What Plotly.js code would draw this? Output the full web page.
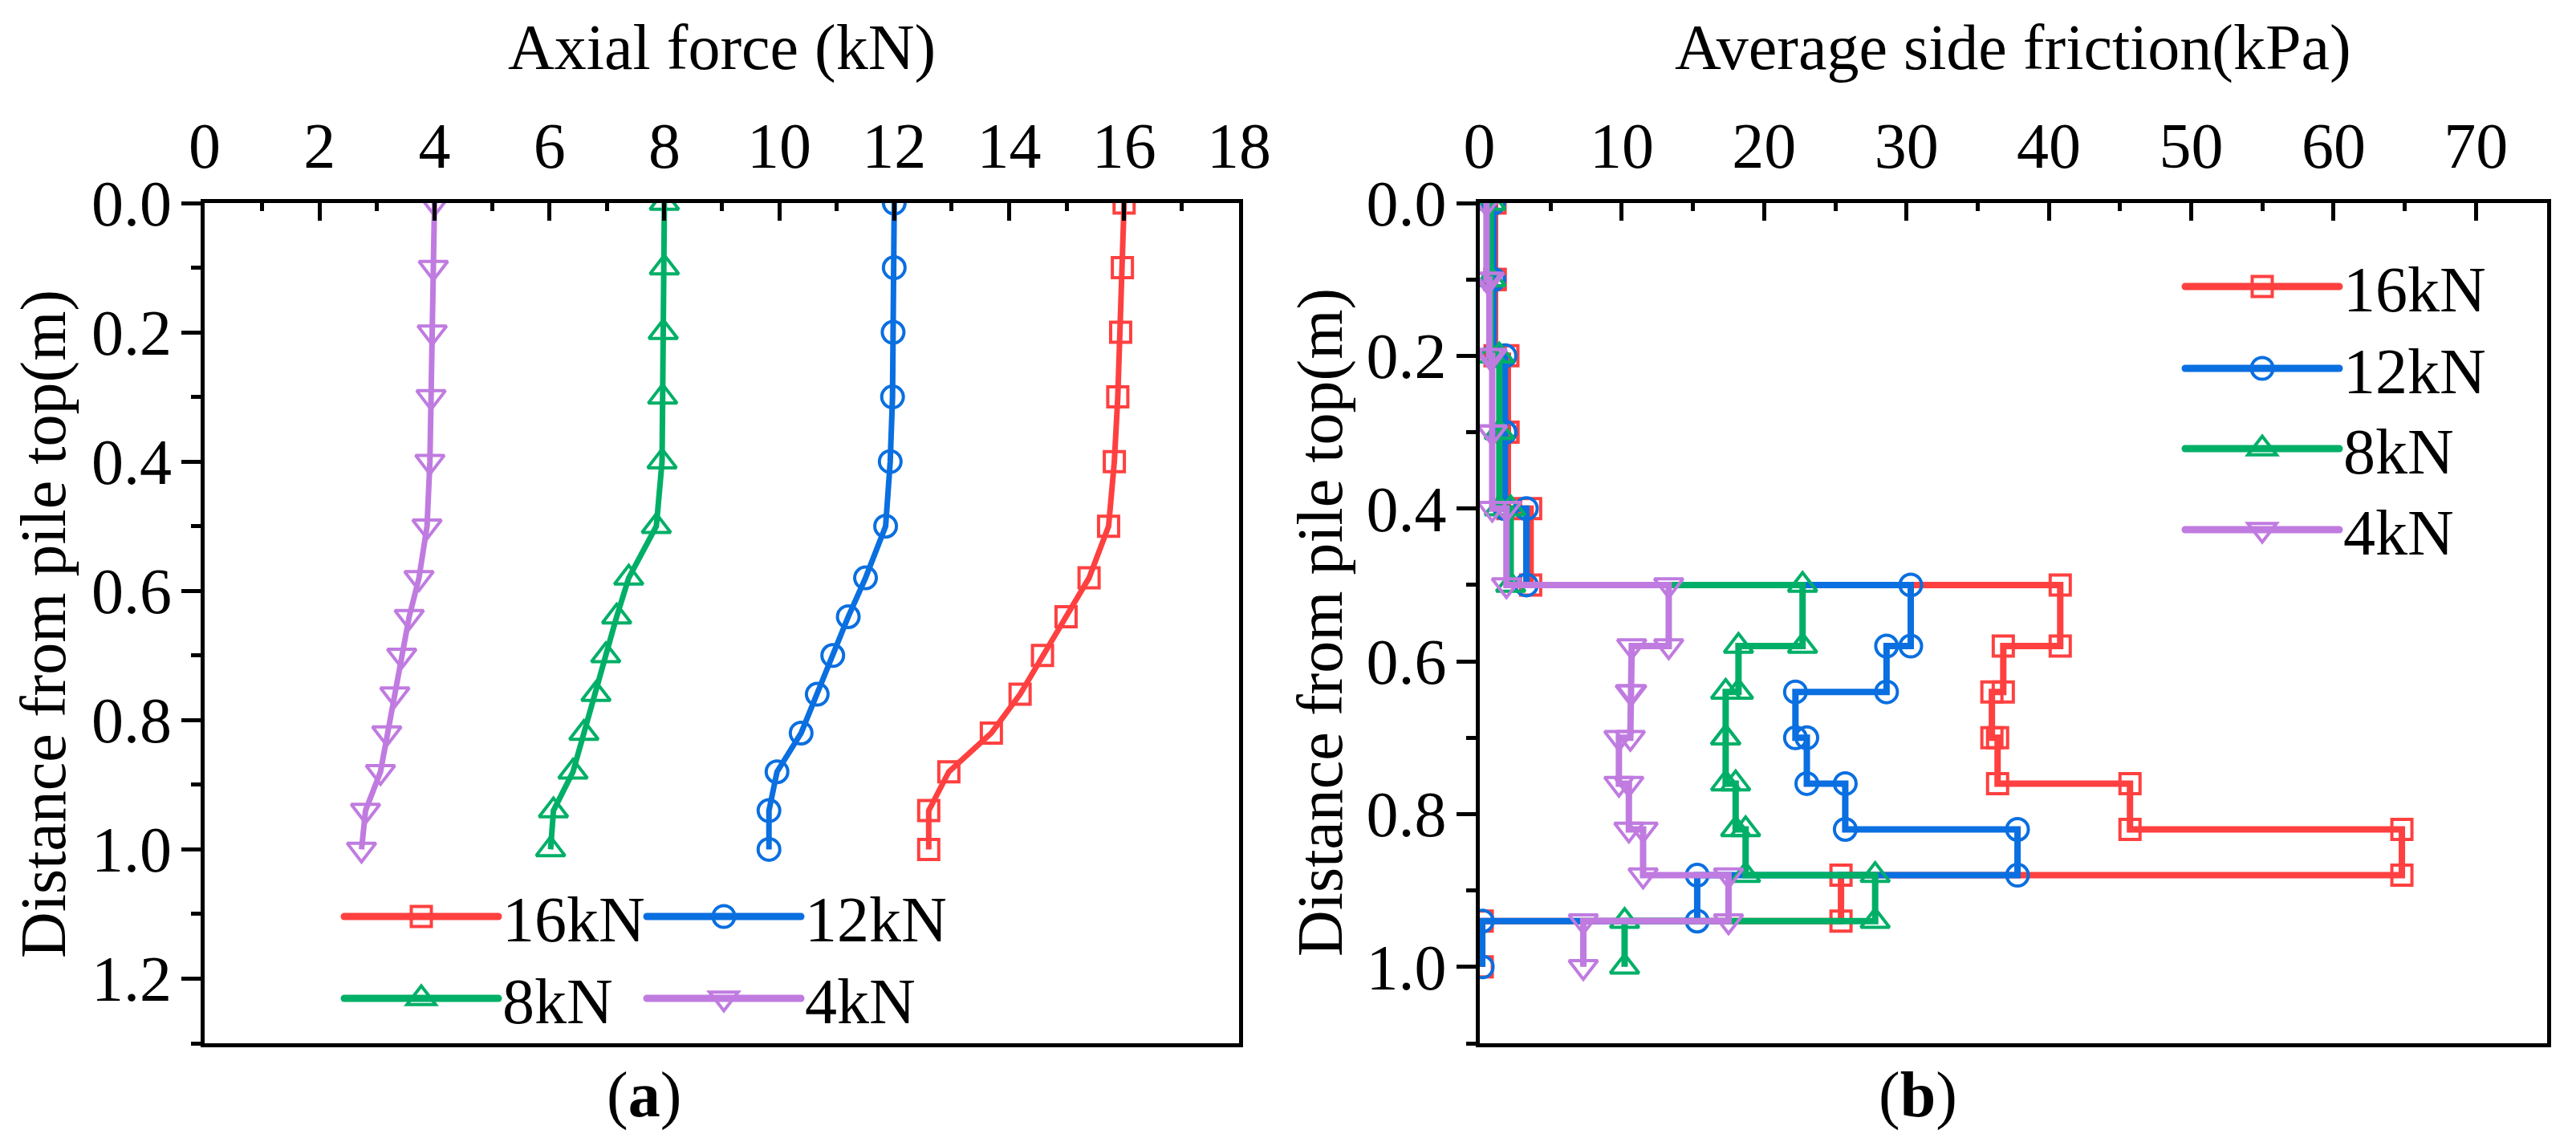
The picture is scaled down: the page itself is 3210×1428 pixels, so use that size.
<!DOCTYPE html>
<html>
<head>
<meta charset="utf-8">
<script src="https://cdn.plot.ly/plotly-3.0.1.min.js"></script>
<style>html,body{margin:0;padding:0;background:#ffffff;}</style>
</head>
<body>
<div id="chart" style="width:3210px;height:1428px;"></div>
<script>
// ---------------- data ----------------
const seriesNames = ['16kN', '12kN', '8kN', '4kN'];
const seriesColors = ['#FF4040', '#0A6FE0', '#00AF67', '#C07BE0'];
const seriesSymbols = ['square-open', 'circle-open', 'triangle-up-open', 'triangle-down-open'];

// depth of measuring points (m)
const depthPts = [0, 0.1, 0.2, 0.3, 0.4, 0.5, 0.58, 0.64, 0.70, 0.76, 0.82, 0.88, 0.94, 1.0];

// (a) axial force (kN) at each depth
const axial16 = [16.0, 15.97, 15.94, 15.89, 15.83, 15.73, 15.39, 14.99, 14.58, 14.19, 13.69, 12.95, 12.60, 12.60];
const axial12 = [12.0, 12.0, 11.98, 11.97, 11.93, 11.85, 11.50, 11.20, 10.93, 10.66, 10.38, 9.96, 9.82, 9.82];
const axial8  = [8.0, 8.0, 7.98, 7.97, 7.96, 7.86, 7.38, 7.17, 6.98, 6.81, 6.60, 6.41, 6.07, 6.02];
const axial4  = [4.0, 3.98, 3.96, 3.94, 3.92, 3.87, 3.73, 3.56, 3.43, 3.31, 3.17, 3.06, 2.80, 2.73];

// (b) average side friction (kPa) of each segment between consecutive depths
const fric16 = [1.1, 1.1, 2.0, 2.0, 3.6, 40.8, 36.8, 36.0, 36.4, 45.7, 64.8, 25.4, 0.2];
const fric12 = [1.0, 1.0, 1.8, 1.8, 3.3, 30.3, 28.6, 22.2, 23.0, 25.7, 37.8, 15.3, 0.2];
const fric8  = [0.8, 0.8, 1.4, 1.4, 2.2, 22.7, 18.2, 17.3, 17.3, 18.0, 18.7, 27.8, 10.2];
const fric4  = [0.5, 0.7, 0.9, 0.9, 1.9, 13.3, 10.7, 10.6, 9.8, 10.5, 11.5, 17.5, 7.3];

// tick labels
const axialTicks = [0, 2, 4, 6, 8, 10, 12, 14, 16, 18];
const depthTicksA = [0, 0.2, 0.4, 0.6, 0.8, 1.0, 1.2];
const fricTicks = [0, 10, 20, 30, 40, 50, 60, 70];
const depthTicksB = [0, 0.2, 0.4, 0.6, 0.8, 1.0];

// ---------------- styling ----------------
const W = 3210, H = 1428;
const FONT = 'Liberation Serif, Times New Roman, serif';
const FS = 80;
const markerSizes = [25, 27, 31, 31];
const markerLine = 4;

const axialData = [axial16, axial12, axial8, axial4];
const fricData = [fric16, fric12, fric8, fric4];

function stepProfile(vals) {
  const xs = [], ys = [];
  for (let i = 0; i < vals.length; i++) {
    xs.push(vals[i], vals[i]);
    ys.push(depthPts[i], depthPts[i + 1]);
  }
  return {xs, ys};
}

const traces = [];
seriesNames.forEach((name, i) => {
  traces.push({
    type: 'scatter', mode: 'lines+markers', name: name,
    x: axialData[i], y: depthPts, xaxis: 'x', yaxis: 'y',
    line: {color: seriesColors[i], width: 7},
    marker: {symbol: seriesSymbols[i], size: markerSizes[i], color: seriesColors[i], line: {width: markerLine, color: seriesColors[i]}},
    legend: i < 2 ? 'legend' : 'legend2'
  });
});
seriesNames.forEach((name, i) => {
  const st = stepProfile(fricData[i]);
  traces.push({
    type: 'scatter', mode: 'lines+markers', name: name,
    x: st.xs, y: st.ys, xaxis: 'x2', yaxis: 'y2',
    line: {color: seriesColors[i], width: 8},
    marker: {symbol: seriesSymbols[i], size: markerSizes[i], color: seriesColors[i], line: {width: markerLine, color: seriesColors[i]}},
    legend: 'legend' + (3 + i)
  });
});

const tickFont = {family: FONT, size: FS, color: '#000'};
const axisBase = {
  showline: true, linewidth: 5, linecolor: '#000', mirror: true,
  showgrid: false, zeroline: false, tickcolor: '#000', tickwidth: 5,
  tickfont: tickFont, tickmode: 'array'
};

const yTop = 253, yBot = 1300;
const yDomain = [1 - yBot / H, 1 - yTop / H];

function legendAt(xpx, cy, ew) {
  const o = {
    x: xpx / W, y: 1 - (cy - 58.5) / H, xanchor: 'left', yanchor: 'top',
    orientation: 'h', bgcolor: 'rgba(0,0,0,0)', borderwidth: 0,
    font: {family: FONT, size: FS, color: '#000'},
    itemwidth: 192, tracegroupgap: 0
  };
  if (ew) { o.entrywidth = ew; o.entrywidthmode = 'pixels'; }
  return o;
}

const layout = {
  width: W, height: H,
  margin: {l: 0, r: 0, t: 0, b: 0, pad: 0},
  paper_bgcolor: '#fff', plot_bgcolor: '#fff',
  hovermode: false,
  xaxis: Object.assign({}, axisBase, {
    domain: [255 / W, 1544 / W], anchor: 'y', side: 'top', range: [0, 18],
    tickvals: axialTicks, ticktext: axialTicks.map(String),
    ticks: 'inside', ticklen: 22, ticklabelstandoff: 7,
    minor: {ticks: 'inside', ticklen: 10, tickwidth: 5, tickcolor: '#000', tickmode: 'linear', tick0: 0, dtick: 1}
  }),
  yaxis: Object.assign({}, axisBase, {
    domain: yDomain, anchor: 'x', range: [1.3, 0],
    tickvals: depthTicksA, ticktext: depthTicksA.map(v => v.toFixed(1)),
    ticks: 'outside', ticklen: 24, ticklabelstandoff: -4,
    minor: {ticks: 'outside', ticklen: 12, tickwidth: 5, tickcolor: '#000', tickmode: 'linear', tick0: 0, dtick: 0.1}
  }),
  xaxis2: Object.assign({}, axisBase, {
    domain: [1843.5 / W, 3174 / W], anchor: 'y2', side: 'top', range: [0, 75],
    tickvals: fricTicks, ticktext: fricTicks.map(String),
    ticks: 'inside', ticklen: 22, ticklabelstandoff: 7,
    minor: {ticks: 'inside', ticklen: 10, tickwidth: 5, tickcolor: '#000', tickmode: 'linear', tick0: 0, dtick: 5}
  }),
  yaxis2: Object.assign({}, axisBase, {
    domain: yDomain, anchor: 'x2', range: [1.1, 0],
    tickvals: depthTicksB, ticktext: depthTicksB.map(v => v.toFixed(1)),
    ticks: 'outside', ticklen: 24, ticklabelstandoff: -4,
    minor: {ticks: 'outside', ticklen: 12, tickwidth: 5, tickcolor: '#000', tickmode: 'linear', tick0: 0, dtick: 0.1}
  }),
  legend: legendAt(424, 1142, 170),
  legend2: legendAt(424, 1244, 170),
  legend3: legendAt(2718, 357),
  legend4: legendAt(2718, 459),
  legend5: legendAt(2718, 559),
  legend6: legendAt(2718, 660),
  annotations: [
    {text: 'Axial force (kN)', x: 899.5 / W, y: 1 - 60 / H},
    {text: 'Average side friction(kPa)', x: 2508.75 / W, y: 1 - 60 / H},
    {text: 'Distance from pile top(m)', x: 55 / W, y: 1 - 778 / H, textangle: -90},
    {text: 'Distance from pile top(m)', x: 1646 / W, y: 1 - 776 / H, textangle: -90},
    {text: '(<b>a</b>)', x: 802 / W, y: 1 - 1364 / H},
    {text: '(<b>b</b>)', x: 2390 / W, y: 1 - 1364 / H}
  ].map(a => Object.assign({
    xref: 'paper', yref: 'paper', showarrow: false, xanchor: 'center', yanchor: 'middle',
    font: {family: FONT, size: FS, color: '#000'}, borderpad: 0
  }, a))
};

function enlargeLegendSymbols() {
  document.querySelectorAll('.infolayer g.traces').forEach(g => {
    const d = g.__data__;
    if (!d || !d[0] || !d[0].trace) return;
    const tr = d[0].trace;
    const want = tr.marker && tr.marker.size ? tr.marker.size : 16;
    const k = want / Math.min(16, want);
    g.querySelectorAll('path.scatterpts').forEach(p => {
      const t = p.getAttribute('transform') || '';
      if (t.indexOf('scale') < 0) p.setAttribute('transform', t + ' scale(' + k + ')');
      p.style.strokeWidth = (markerLine / k) + 'px';
    });
    g.querySelectorAll('.legendlines path').forEach(p => {
      p.style.strokeLinecap = 'round';
      p.style.strokeWidth = '9px';
    });
  });
}

Plotly.newPlot('chart', traces, layout, {displayModeBar: false, staticPlot: true}).then(enlargeLegendSymbols);
</script>
</body>
</html>
